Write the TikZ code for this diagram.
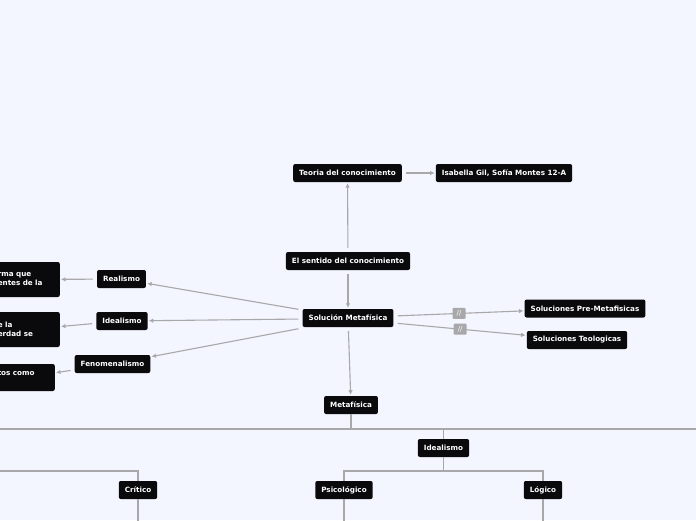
\documentclass[tikz,border=0pt]{standalone}
\usepackage{fontspec}
\newfontfamily\mapfont{DejaVu Sans}
\usetikzlibrary{arrows.meta}
\definecolor{bgblue}{RGB}{243,245,255}
\definecolor{linegray}{RGB}{168,168,170}
\definecolor{boxblack}{RGB}{10,10,12}

\begin{document}
\begin{tikzpicture}[x=1pt, y=-1pt,
  every node/.style = {shape=rectangle, rounded corners=2pt,
    fill=boxblack, text=white, inner xsep=6pt, minimum height=18pt,
    font=\mapfont\bfseries\fontsize{7.2}{9}\selectfont},
  link/.style={draw=linegray, line width=1.1pt, shorten <=4pt, shorten >=1pt,
    -{Latex[length=4.5pt,width=4.5pt]}},
  branch/.style={draw=linegray, line width=1.1pt},
  cutbox/.style={align=left, text width=58pt, inner xsep=4pt, anchor=east},
  slashbox/.style={fill=linegray, rounded corners=1pt, inner sep=0pt,
    minimum width=13pt, minimum height=11pt,
    font=\mapfont\fontsize{7}{7}\selectfont}
  ]
  \useasboundingbox (0,0) rectangle (696,520);
  \fill[bgblue] (0,0) rectangle (696,520);
  \clip (0,0) rectangle (696,520);

  % upper map
  \node (teoria) at (347.5,173) {Teoria del conocimiento};
  \node (autoras) at (504,173) {Isabella Gil, Sofía Montes 12-A};
  \node (sentido) at (348,261) {El sentido del conocimiento};
  \node (solucion) at (348,318) {Solución Metafísica};
  \node (realismo) at (121.5,279) {Realismo};
  \node (idealismo) at (122,321) {Idealismo};
  \node (fenomeno) at (112.5,364) {Fenomenalismo};
  \node [cutbox, minimum height=35pt] (realdesc) at (60,279.5) {rma que\\entes de la};
  \node [cutbox, minimum height=35pt] (idealdesc) at (60,329.5) {e la\\erdad se};
  \node [cutbox, minimum height=27pt, text width=53pt] (fenodesc) at (55,377.5) {tos como\\ \mbox{}};
  \node (premeta) at (585,308.5) {Soluciones Pre-Metafisicas};
  \node (teologia) at (577,340) {Soluciones Teologicas};

  \draw[link] (sentido) -- (teoria);
  \draw[link] (teoria) -- (autoras);
  \draw[link] (sentido) -- (solucion);
  \draw[link] ([yshift=8pt]solucion.west) -- (realismo);
  \draw[link] ([yshift=-1pt]solucion.west) -- (idealismo);
  \draw[link] ([yshift=-10pt]solucion.west) -- (fenomeno);
  \draw[link] (realismo) -- (realdesc);
  \draw[link] (idealismo) -- (idealdesc);
  \draw[link] (fenomeno) -- (fenodesc);
  \draw[link] ([yshift=2pt]solucion.east) -- node[slashbox] (slashA) {//} (premeta);
  \draw[link] ([yshift=-5pt]solucion.east) -- node[slashbox] (slashB) {//} (teologia);

  % lower tree
  \node (metafisica) at (351,405) {Metafísica};
  \node (idealtree) at (443.5,448) {Idealismo};
  \node (critico) at (138,490) {Crítico};
  \node (psico) at (344,490) {Psicológico};
  \node (logico) at (543,490) {Lógico};
  \coordinate (busL) at (0,429);
  \coordinate (busR) at (696,429);
  \coordinate (forkL) at (0,471);
  \coordinate (fork) at (443.5,471);
  \coordinate (floor) at (0,522);

  \draw[link] (solucion) -- (metafisica);
  \draw[branch] (metafisica.south) -- (metafisica |- busL);
  \draw[branch] (busL) -- (busR);
  \draw[branch] (idealtree.north) -- (idealtree |- busL);
  \draw[branch] (idealtree.south) -- (fork);
  \draw[branch] (psico.north) |- (fork) -| (logico.north);
  \draw[branch] (forkL) -| (critico.north);
  \draw[branch] (critico.south) -- (critico |- floor);
  \draw[branch] (psico.south) -- (psico |- floor);
  \draw[branch] (logico.south) -- (logico |- floor);
\end{tikzpicture}
\end{document}
